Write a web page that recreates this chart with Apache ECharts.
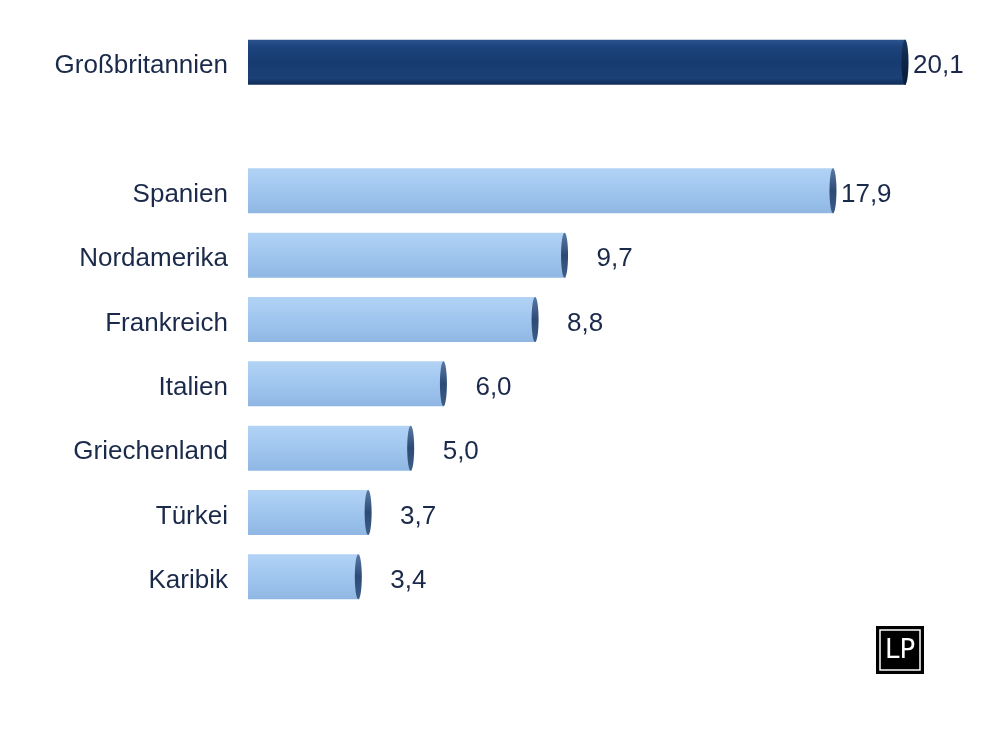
<!DOCTYPE html>
<html>
<head>
<meta charset="utf-8">
<script src="https://cdn.jsdelivr.net/npm/echarts@6/dist/echarts.min.js"></script>
<style>html,body{margin:0;padding:0;background:#fff;}#c{width:1000px;height:750px;}</style>
</head>
<body>
<div id="c"></div>
<script>
const categories = ['Großbritannien', '', 'Spanien', 'Nordamerika', 'Frankreich', 'Italien', 'Griechenland', 'Türkei', 'Karibik'];
const values = [20.1, null, 17.9, 9.7, 8.8, 6.0, 5.0, 3.7, 3.4];
const highlighted = ['Großbritannien'];

const chart = echarts.init(document.getElementById('c'));
const darkGrad = new echarts.graphic.LinearGradient(0, 0, 0, 1, [
  {offset: 0, color: '#2b5490'}, {offset: 0.15, color: '#1d447d'}, {offset: 0.5, color: '#173b70'},
  {offset: 0.85, color: '#1b4177'}, {offset: 1, color: '#0f2c57'}]);
const lightGrad = new echarts.graphic.LinearGradient(0, 0, 0, 1, [
  {offset: 0, color: '#b2d3f5'}, {offset: 0.5, color: '#a0c6ef'}, {offset: 1, color: '#8fb7e3'}]);
const capDark = new echarts.graphic.LinearGradient(0, 0, 0, 1, [
  {offset: 0, color: '#1a3560'}, {offset: 0.5, color: '#0d2447'}, {offset: 1, color: '#0a1d3a'}]);
const capLight = new echarts.graphic.LinearGradient(0, 0, 0, 1, [
  {offset: 0, color: '#5a7aa6'}, {offset: 0.5, color: '#2c4a74'}, {offset: 1, color: '#3d5d88'}]);

const FONT = 'Liberation Sans, Arial, sans-serif';
const data = values.map((v, i) => {
  if (v === null) return null;
  const hi = highlighted.includes(categories[i]);
  return {
    value: v,
    itemStyle: {color: hi ? darkGrad : lightGrad},
    label: {distance: v > 15 ? 7 : 31}
  };
});
const capData = values.map((v, i) => v === null ? null : [v, i, highlighted.includes(categories[i]) ? 1 : 0]);

chart.setOption({
  animation: false,
  grid: {left: 248, right: 94, top: 30, bottom: 141, containLabel: false},
  xAxis: {type: 'value', min: 0, max: 20.1, show: false},
  yAxis: {
    type: 'category', data: categories, inverse: true,
    axisLine: {show: false}, axisTick: {show: false}, splitLine: {show: false},
    axisLabel: {
      margin: 20,
      formatter: v => '{a|' + v + '}',
      rich: {a: {color: '#1b2a4a', fontSize: 26, fontFamily: FONT, padding: [8, 0, 0, 0]}}
    }
  },
  series: [{
    type: 'bar', data: data, barCategoryGap: '30%',
    label: {
      show: true, position: 'right', color: '#1b2a4a', fontSize: 26, fontFamily: FONT,
      offset: [0, 4],
      formatter: p => p.value.toFixed(1).replace('.', ',')
    }
  }, {
    type: 'custom', data: capData, z: 3, silent: true,
    renderItem: (params, api) => {
      const end = api.coord([api.value(0), api.value(1)]);
      const h = api.size([0, 1])[1] * 0.7;
      const hi = api.value(2) === 1;
      return {
        type: 'ellipse',
        shape: {cx: end[0] - 1, cy: end[1], rx: 3.5, ry: h / 2},
        style: {fill: hi ? capDark : capLight}
      };
    }
  }],
  graphic: [
    {type: 'rect', shape: {x: 876, y: 626, width: 48, height: 48}, style: {fill: '#000'}},
    {type: 'rect', shape: {x: 880, y: 630, width: 40, height: 40}, style: {fill: 'none', stroke: '#fff', lineWidth: 1.5}},
    {type: 'text', x: 900, y: 651, style: {text: 'LP', fill: '#fff', fontSize: 26, fontFamily: 'DejaVu Sans', fontWeight: 'normal', align: 'center', verticalAlign: 'middle'}}
  ]
});
</script>
</body>
</html>
